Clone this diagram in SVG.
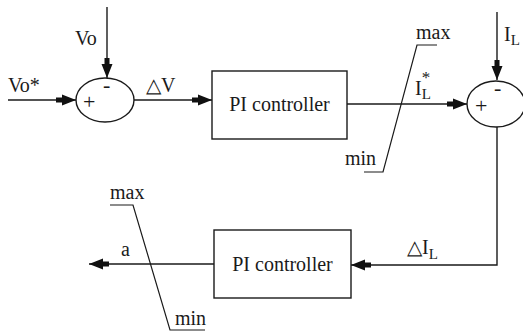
<svg xmlns="http://www.w3.org/2000/svg" width="523" height="332" viewBox="0 0 523 332">
<style>
.ln{fill:none;stroke:#1a1a1a;stroke-width:1.4}
.bx{fill:#fff;stroke:#1a1a1a;stroke-width:1.4}
.t{font-family:"Liberation Serif","Times New Roman",serif;font-size:19px;fill:#1a1a1a}
.big{font-size:20px}
.sgn{font-size:22px}
.sub{font-size:15px}
</style>
<defs>
<marker id="arr" viewBox="-21 -7 22 14" refX="0" refY="0" markerWidth="22" markerHeight="14" orient="auto" markerUnits="userSpaceOnUse">
<path d="M0,0 L-14,-5.5 L-14,-2.5 L-20,-2.5 L-20,2.5 L-14,2.5 L-14,5.5 Z" fill="#111"/>
</marker>
</defs>
<rect width="523" height="332" fill="#fff"/>
<g id="connectors">
<path class="ln" d="M8,100 H76" marker-end="url(#arr)"/>
<path class="ln" d="M107,7 V78" marker-end="url(#arr)"/>
<path class="ln" d="M134,100 H212" marker-end="url(#arr)"/>
<path class="ln" d="M347,104 H467" marker-end="url(#arr)"/>
<path class="ln" d="M497,12 V80" marker-end="url(#arr)"/>
<path class="ln" d="M497,127 V265 H351" marker-end="url(#arr)"/>
<path class="ln" d="M214,264 H89" marker-end="url(#arr)"/>
</g>
<g id="sum1">
<ellipse class="bx" cx="105" cy="100" rx="29" ry="22"/>
<text class="t sgn" x="83" y="109">+</text>
<text class="t sgn" x="103" y="92">-</text>
</g>
<g id="sum2">
<ellipse class="bx" cx="496" cy="104" rx="29" ry="23"/>
<text class="t sgn" x="475" y="113">+</text>
<text class="t sgn" x="494" y="95">-</text>
</g>
<g id="pi1">
<rect class="bx" x="212" y="71" width="135" height="68"/>
<text class="t big" x="279.5" y="111" text-anchor="middle">PI controller</text>
</g>
<g id="pi2">
<rect class="bx" x="214" y="230" width="137" height="68"/>
<text class="t big" x="282.5" y="271" text-anchor="middle">PI controller</text>
</g>
<g id="limiter1">
<path class="ln" d="M364,172 H383 L417,45 H437" style="stroke-width:1.2"/>
<text class="t big" x="416" y="39">max</text>
<text class="t big" x="345" y="165">min</text>
</g>
<g id="limiter2">
<path class="ln" d="M110,205 H133 L170,330 H205" style="stroke-width:1.2"/>
<text class="t big" x="110" y="199">max</text>
<text class="t big" x="175" y="325">min</text>
</g>
<g id="labels">
<text class="t big" x="75" y="45">Vo</text>
<text class="t big" x="8" y="92">Vo*</text>
<text class="t big" x="146" y="92">△V</text>
<text class="t big" x="415" y="95">I<tspan class="sub" dy="4">L</tspan><tspan dx="-9" dy="-16" style="font-size:17px">*</tspan></text>
<text class="t big" x="504" y="41">I<tspan class="sub" dy="4">L</tspan></text>
<text class="t big" x="407" y="254">△I<tspan class="sub" dy="5">L</tspan></text>
<text class="t big" x="121" y="256">a</text>
</g>
</svg>
